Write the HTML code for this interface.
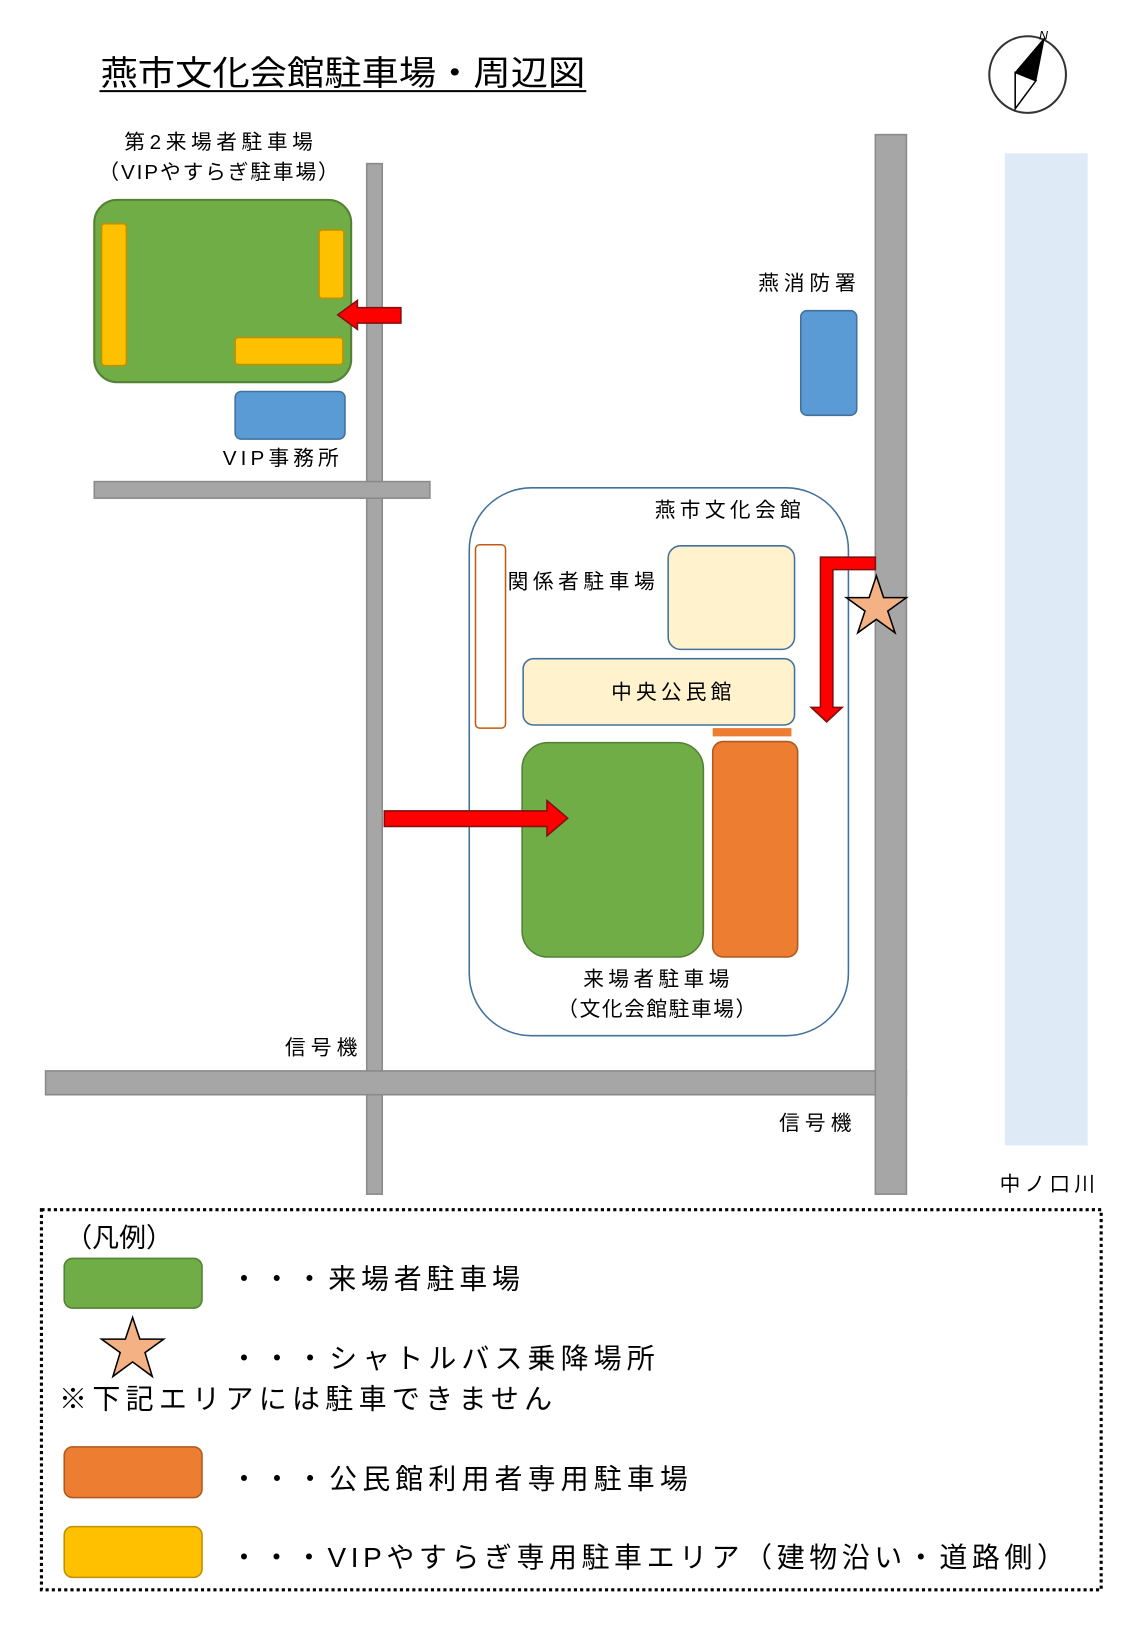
<!DOCTYPE html>
<html><head><meta charset="utf-8"><style>html,body{margin:0;padding:0;background:#fff}svg{display:block}
text{font-family:"Liberation Sans","Noto Sans CJK JP",sans-serif;fill:#000}</style></head>
<body>
<svg width="1125" height="1625" viewBox="0 0 1086 1569" preserveAspectRatio="none" xmlns="http://www.w3.org/2000/svg">
<rect width="1086" height="1569" fill="#fff"/>
<text x="97" y="82" font-size="33" textLength="468" lengthAdjust="spacingAndGlyphs">燕市文化会館駐車場・周辺図</text>
<line x1="96" y1="88" x2="566" y2="88" stroke="#000" stroke-width="2"/>
<circle cx="992" cy="72" r="37" fill="none" stroke="#333" stroke-width="2"/>
<polygon points="1008,37 1000,78 980,70" fill="#000" stroke="#000"/>
<polygon points="980,70 1000,78 980,105" fill="#fff" stroke="#000" stroke-width="1.5"/>
<text x="1003" y="38" font-size="12" font-style="italic">N</text>
<rect x="970" y="148" width="80" height="958" fill="#deeaf6"/>
<text x="965" y="1150" font-size="20" textLength="92" lengthAdjust="spacing">中ノ口川</text>
<g fill="#a6a6a6" stroke="#8a8a8a" stroke-width="1.5">
<rect x="354" y="158" width="15" height="995"/>
<rect x="91" y="465" width="324" height="16"/>
<rect x="44" y="1034" width="831" height="23"/>
<rect x="845" y="130" width="30" height="1023"/>
</g>
<text x="120" y="144" font-size="20" textLength="182" lengthAdjust="spacing">第2来場者駐車場</text>
<text x="95" y="173" font-size="20" textLength="232" lengthAdjust="spacing">（VIPやすらぎ駐車場）</text>
<rect x="91" y="193" width="248" height="176" rx="22" fill="#70ad47" stroke="#538135" stroke-width="2"/>
<g fill="#ffc000" stroke="#bf9000" stroke-width="1.5">
<rect x="98" y="216" width="24" height="137" rx="3"/>
<rect x="308" y="222" width="24" height="66" rx="3"/>
<rect x="227" y="326" width="104" height="26" rx="3"/>
</g>
<polygon points="387,297 345,297 345,290 326,304 345,318 345,312 387,312" fill="#f00" stroke="#7f1010" stroke-width="1.5"/>
<rect x="227" y="378" width="106" height="46" rx="6" fill="#5b9bd5" stroke="#41719c" stroke-width="1.5"/>
<text x="215" y="449" font-size="20" textLength="112" lengthAdjust="spacing">VIP事務所</text>
<text x="732" y="280" font-size="20" textLength="94" lengthAdjust="spacing">燕消防署</text>
<rect x="773" y="300" width="54" height="101" rx="6" fill="#5b9bd5" stroke="#41719c" stroke-width="1.5"/>
<rect x="453" y="471" width="366" height="529" rx="60" fill="#fff" stroke="#41719c" stroke-width="1.5"/>
<text x="632" y="499" font-size="20" textLength="141" lengthAdjust="spacing">燕市文化会館</text>
<rect x="459" y="526" width="29" height="177" rx="4" fill="#fff" stroke="#c55a11" stroke-width="1.5"/>
<text x="490" y="568" font-size="20" textLength="142" lengthAdjust="spacing">関係者駐車場</text>
<rect x="645" y="527" width="122" height="100" rx="12" fill="#fff2cc" stroke="#41719c" stroke-width="1.5"/>
<rect x="505" y="636" width="262" height="64" rx="10" fill="#fff2cc" stroke="#41719c" stroke-width="1.5"/>
<text x="590" y="675" font-size="20" textLength="116" lengthAdjust="spacing">中央公民館</text>
<rect x="688" y="703" width="76" height="8" fill="#ed7d31"/>
<rect x="504" y="717" width="175" height="207" rx="25" fill="#70ad47" stroke="#538135" stroke-width="1.5"/>
<rect x="688" y="716" width="82" height="208" rx="10" fill="#ed7d31" stroke="#ae5a21" stroke-width="1.5"/>
<polygon points="371,783 528,783 528,773 548,790 528,807 528,798 371,798" fill="#f00" stroke="#7f1010" stroke-width="1.5"/>
<polygon points="845,538 792,538 792,683 783,683 798,697 813,683 804,683 804,550 845,550" fill="#f00" stroke="#7f1010" stroke-width="1.5"/>
<polygon points="846,556 853,577 875,577 857,590 864,611 846,598 828,611 835,590 817,577 839,577" fill="#f4b183" stroke="#000" stroke-width="1.5"/>
<text x="563" y="952" font-size="20" textLength="141" lengthAdjust="spacing">来場者駐車場</text>
<text x="538" y="981" font-size="20" textLength="192" lengthAdjust="spacing">（文化会館駐車場）</text>
<text x="275" y="1018" font-size="20" textLength="70" lengthAdjust="spacing">信号機</text>
<text x="752" y="1091" font-size="20" textLength="70" lengthAdjust="spacing">信号機</text>
<rect x="40" y="1168" width="1023" height="367" fill="none" stroke="#000" stroke-width="3" stroke-dasharray="3,3"/>
<text x="63" y="1204" font-size="26">（凡例）</text>
<rect x="62" y="1215" width="133" height="48" rx="8" fill="#70ad47" stroke="#538135" stroke-width="1.5"/>
<text x="222" y="1244" font-size="27" textLength="280" lengthAdjust="spacing">・・・来場者駐車場</text>
<polygon points="128,1272 135,1293 158,1293 140,1306 147,1329 128,1315 109,1329 116,1306 98,1293 121,1293" fill="#f4b183" stroke="#000" stroke-width="1.5"/>
<text x="222" y="1321" font-size="27" textLength="410" lengthAdjust="spacing">・・・シャトルバス乗降場所</text>
<text x="57" y="1360" font-size="27" textLength="476" lengthAdjust="spacing">※下記エリアには駐車できません</text>
<rect x="62" y="1397" width="133" height="49" rx="8" fill="#ed7d31" stroke="#ae5a21" stroke-width="1.5"/>
<text x="222" y="1437" font-size="27" textLength="442" lengthAdjust="spacing">・・・公民館利用者専用駐車場</text>
<rect x="62" y="1474" width="133" height="49" rx="8" fill="#ffc000" stroke="#bf9000" stroke-width="1.5"/>
<text x="222" y="1513" font-size="27" textLength="806" lengthAdjust="spacing">・・・VIPやすらぎ専用駐車エリア（建物沿い・道路側）</text>
</svg>
</body></html>
